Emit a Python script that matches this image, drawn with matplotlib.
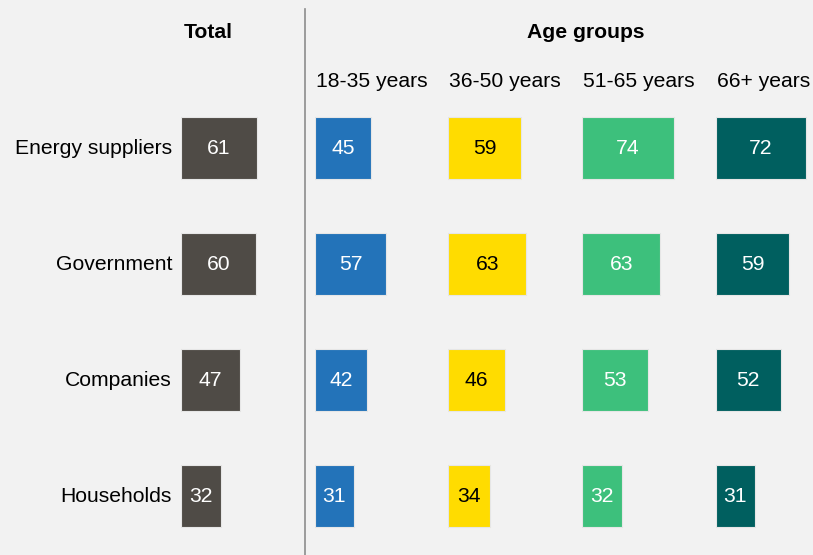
import matplotlib
matplotlib.use("Agg")
import matplotlib.pyplot as plt

categories = ["Energy suppliers", "Government", "Companies", "Households"]
total = [61, 60, 47, 32]
age_groups = ["18-35 years", "36-50 years", "51-65 years", "66+ years"]
age_values = [
    [45, 57, 42, 31],
    [59, 63, 46, 34],
    [74, 63, 53, 32],
    [72, 59, 52, 31],
]
total_color = "#4f4b46"
age_colors = ["#2373b9", "#ffdc00", "#3dc07c", "#005f5f"]
age_text = ["white", "black", "white", "white"]

W, H = 813, 555
BG = "#f2f2f2"
fig = plt.figure(figsize=(W / 100, H / 100), dpi=100, facecolor=BG)
plt.rcParams["font.family"] = ["Liberation Sans", "DejaVu Sans"]

FS = 15.2
px_per_unit = 1.245
col_width_units = 100
row_centers_px = [148, 264, 380, 496]
row_h_px = 62
top_px, bot_px = 90, 555

def make_ax(left_px):
    ax = fig.add_axes([left_px / W, 1 - bot_px / H,
                       col_width_units * px_per_unit / W, (bot_px - top_px) / H])
    ax.set_xlim(0, col_width_units)
    ax.set_ylim(bot_px, top_px)
    ax.axis("off")
    ax.patch.set_alpha(0)
    return ax

def draw_col(ax, vals, color, tcolor):
    ax.barh(row_centers_px, vals, height=row_h_px, left=0, color=color,
            edgecolor="#e6e6e6", linewidth=0.8)
    for v, y in zip(vals, row_centers_px):
        ax.text(v / 2, y + 1, str(v), ha="center", va="center", color=tcolor, fontsize=FS)

ax_t = make_ax(181)
draw_col(ax_t, total, total_color, "white")
for c, y in zip(categories, row_centers_px):
    ax_t.text(-9 / px_per_unit, y + 1, c, ha="right", va="center", fontsize=FS, color="black",
              clip_on=False)

starts = [315, 448, 582, 716]
for i, s in enumerate(starts):
    ax = make_ax(s)
    draw_col(ax, age_values[i], age_colors[i], age_text[i])
    fig.text((s + 1) / W, 1 - 81 / H, age_groups[i], ha="left", va="center", fontsize=FS)

fig.text(208 / W, 1 - 32 / H, "Total", ha="center", va="center", fontsize=FS, fontweight="bold")
fig.text(586 / W, 1 - 32 / H, "Age groups", ha="center", va="center", fontsize=FS, fontweight="bold")

fig.add_artist(plt.Line2D([304.5 / W, 304.5 / W], [1 - 9 / H, 0], color="#8c8c8c", linewidth=1.2))

fig.savefig("out.png", dpi=100, facecolor=BG)
